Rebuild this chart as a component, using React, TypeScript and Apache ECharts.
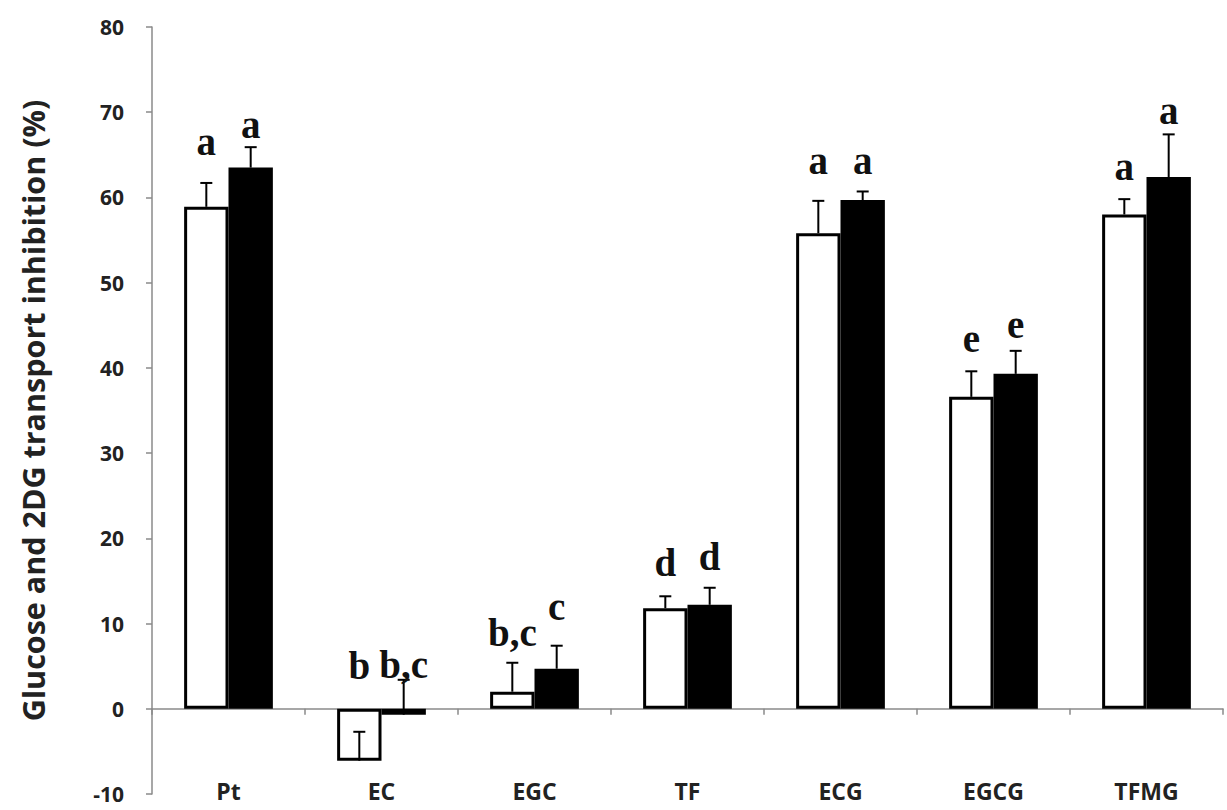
import { useEffect, useRef } from "react";
import * as echarts from "echarts";

const categories = ["Pt", "EC", "EGC", "TF", "ECG", "EGCG", "TFMG"];
const glucose = [58.9, -6.1, 2.0, 11.8, 55.8, 36.6, 58.0];
const glucoseErrTop = [61.7, -2.7, 5.4, 13.2, 59.6, 39.6, 59.8];
const dg = [63.5, -0.7, 4.7, 12.2, 59.7, 39.3, 62.4];
const dgErrTop = [65.9, 3.4, 7.4, 14.2, 60.7, 42.0, 67.4];
const glucoseLetters = ["a", "b", "b,c", "d", "a", "e", "a"];
const dgLetters = ["a", "b,c", "c", "d", "a", "e", "a"];
const glucoseLetterY = [65.2, 3.75, 7.6, 15.8, 63.0, 42.1, 62.3];
const dgLetterY = [67.2, 3.9, 10.7, 16.5, 63.0, 43.8, 68.8];
const yMin = -10;
const yMax = 80;
const yStep = 10;
const yTitle = "Glucose and 2DG transport inhibition (%)";

const GAP = 0.42;
const LETTER_SIZE = 39;

function overlay(values: number[], errTop: number[], letters: string[], letterY: number[], side: number) {
  return {
    type: "custom",
    z: 10,
    silent: true,
    data: categories.map((_, i) => [i, values[i], errTop[i], letterY[i]]),
    renderItem: (params: any, api: any) => {
      const i = api.value(0);
      const catW = api.size([1, 0])[0];
      const bw = (catW * (1 - GAP)) / 2;
      const dx = (side * bw) / 2;
      const base = api.coord([i, api.value(1)]);
      const top = api.coord([i, api.value(2)]);
      const lp = api.coord([i, api.value(3)]);
      const x = base[0] + dx;
      const cap = 6;
      return {
        type: "group",
        children: [
          { type: "line", shape: { x1: x, y1: base[1], x2: x, y2: top[1] }, style: { stroke: "#000", lineWidth: 2 } },
          { type: "line", shape: { x1: x - cap, y1: top[1], x2: x + cap, y2: top[1] }, style: { stroke: "#000", lineWidth: 2 } },
          {
            type: "text",
            x: x,
            y: lp[1] + 8,
            style: {
              text: letters[params.dataIndex],
              fontFamily: "Liberation Serif",
              fontWeight: "bold",
              fontSize: LETTER_SIZE,
              fill: "#111",
              align: "center",
              verticalAlign: "bottom",
            },
          },
        ],
      };
    },
  };
}

export default function App() {
  const ref = useRef<HTMLDivElement>(null);
  useEffect(() => {
    if (!ref.current) return;
    const chart = echarts.init(ref.current, undefined, { renderer: "svg" });
    chart.setOption({
      animation: false,
      backgroundColor: "#fff",
      grid: { left: 152, right: 4, top: 27, bottom: 16, containLabel: false, outerBoundsMode: "none" },
      xAxis: {
        type: "category",
        data: categories,
        axisLine: { onZero: true, lineStyle: { color: "#8a8a8a", width: 1.5 } },
        axisTick: { show: true, length: 6, inside: false, lineStyle: { color: "#8a8a8a", width: 1.5 } },
        axisLabel: {
          margin: -15,
          fontFamily: "Open Sans",
          fontWeight: "bold",
          fontSize: 23,
          color: "#222",
        },
        splitLine: { show: false },
      },
      yAxis: {
        type: "value",
        min: yMin,
        max: yMax,
        interval: yStep,
        name: yTitle,
        nameLocation: "middle",
        nameGap: 104,
        nameRotate: 90,
        nameTextStyle: { fontFamily: "Open Sans", fontWeight: "bold", fontSize: 30.5, color: "#222" },
        axisLine: { show: true, lineStyle: { color: "#8a8a8a", width: 1.5 } },
        axisTick: { show: true, length: 6, lineStyle: { color: "#8a8a8a", width: 1.5 } },
        axisLabel: { margin: 28, fontFamily: "Open Sans", fontWeight: "bold", fontSize: 21, color: "#222" },
        splitLine: { show: false },
      },
      series: [
        {
          type: "bar",
          name: "Glucose",
          data: glucose,
          barGap: "0%",
          barCategoryGap: GAP * 100 + "%",
          itemStyle: { color: "#fff", borderColor: "#000", borderWidth: 3 },
        },
        {
          type: "bar",
          name: "2DG",
          data: dg,
          barGap: "0%",
          barCategoryGap: GAP * 100 + "%",
          itemStyle: { color: "#000", borderColor: "#000", borderWidth: 3 },
        },
        overlay(glucose, glucoseErrTop, glucoseLetters, glucoseLetterY, -1),
        overlay(dg, dgErrTop, dgLetters, dgLetterY, 1),
      ],
    });
    return () => chart.dispose();
  }, []);
  return <div ref={ref} style={{ position: "fixed", left: 0, top: 0, width: 1227, height: 810 }} />;
}
